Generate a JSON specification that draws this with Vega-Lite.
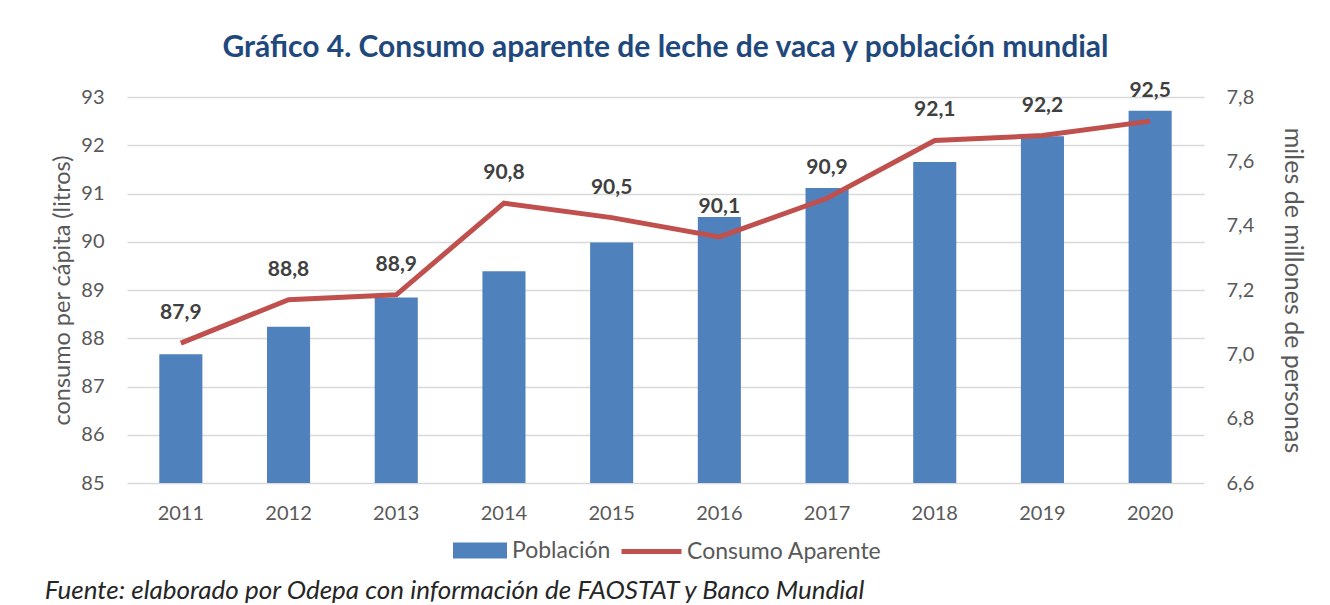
{
  "$schema": "https://vega.github.io/schema/vega-lite/v6.json",
  "padding": {"left": 44, "top": 33, "right": 10, "bottom": 2},
  "background": "white",
  "config": {
    "font": "Lato",
    "locale": {"number": {"decimal": ",", "thousands": ".", "grouping": [3], "currency": ["", ""]}},
    "view": {"stroke": null},
    "axis": {"labelFont": "Lato", "labelFontSize": 20, "labelColor": "#595959", "titleFont": "Lato", "titleFontSize": 23.5, "titleColor": "#595959", "titleFontWeight": "normal", "domain": false, "ticks": false, "grid": false},
    "legend": {"labelFont": "Lato", "labelFontSize": 23, "labelColor": "#595959", "orient": "bottom", "direction": "horizontal", "title": null, "labelLimit": 400, "layout": {"bottom": {"anchor": "middle", "center": true}}},
    "concat": {"spacing": 0}
  },
  "title": {"text": "Fuente: elaborado por Odepa con información de FAOSTAT y Banco Mundial", "orient": "bottom", "anchor": "start", "fontStyle": "italic", "fontWeight": "normal", "fontSize": 26, "font": "Lato", "color": "#262626", "offset": 14, "dx": -6},
  "vconcat": [
    {
      "width": 1077,
      "height": 386,
      "title": {"text": "Gráfico 4. Consumo aparente de leche de vaca y población mundial", "fontSize": 30, "font": "Lato", "fontWeight": "bold", "color": "#1F497D", "anchor": "middle", "offset": 17},
      "data": {"values": [
        {"anio": "2011", "poblacion": 7.0, "consumo": 87.9},
        {"anio": "2012", "poblacion": 7.086, "consumo": 88.8},
        {"anio": "2013", "poblacion": 7.177, "consumo": 88.9},
        {"anio": "2014", "poblacion": 7.258, "consumo": 90.8},
        {"anio": "2015", "poblacion": 7.348, "consumo": 90.5},
        {"anio": "2016", "poblacion": 7.427, "consumo": 90.1},
        {"anio": "2017", "poblacion": 7.517, "consumo": 90.9},
        {"anio": "2018", "poblacion": 7.598, "consumo": 92.1},
        {"anio": "2019", "poblacion": 7.678, "consumo": 92.2},
        {"anio": "2020", "poblacion": 7.757, "consumo": 92.5}
      ]},
      "encoding": {
        "x": {"field": "anio", "type": "ordinal", "scale": {"paddingInner": 0.6, "paddingOuter": 0.3}, "axis": {"title": null, "labelAngle": 0, "labelPadding": 20}}
      },
      "layer": [
        {
          "mark": {"type": "bar", "clip": true},
          "encoding": {
            "y": {"field": "poblacion", "type": "quantitative", "scale": {"domain": [6.6, 7.8], "zero": false, "nice": false}, "axis": {"orient": "right", "values": [6.6, 6.8, 7.0, 7.2, 7.4, 7.6, 7.8], "format": ".1f", "title": "miles de millones de personas", "labelPadding": 22, "titlePadding": 26, "titleFontSize": 25}},
            "fill": {"datum": "Población", "type": "nominal", "scale": {"range": ["#4F81BD"]}, "legend": {"symbolType": "M-0.9,-0.27H0.9V0.27H-0.9Z", "symbolSize": 3600, "symbolStrokeWidth": 0, "offset": -4, "labelOffset": 2}}
          }
        },
        {
          "mark": {"type": "line", "strokeWidth": 5},
          "encoding": {
            "y": {"field": "consumo", "type": "quantitative", "scale": {"domain": [85, 93], "zero": false, "nice": false}, "axis": {"orient": "left", "values": [85, 86, 87, 88, 89, 90, 91, 92, 93], "grid": true, "gridColor": "#D9D9D9", "gridWidth": 1.5, "title": "consumo per cápita (litros)", "labelPadding": 23, "titlePadding": 6}},
            "stroke": {"datum": "Consumo Aparente", "type": "nominal", "scale": {"range": ["#C0504D"]}, "legend": {"symbolType": "stroke", "symbolSize": 3600, "symbolStrokeWidth": 5, "offset": -4, "labelOffset": 3}}
          }
        },
        {
          "mark": {"type": "text", "dy": -30, "fontSize": 21, "fontWeight": "bold", "font": "Lato", "color": "#404040"},
          "encoding": {
            "y": {"field": "consumo", "type": "quantitative", "scale": {"domain": [85, 93], "zero": false, "nice": false}, "axis": null},
            "text": {"field": "consumo", "type": "quantitative", "format": ".1f"}
          }
        }
      ],
      "resolve": {"scale": {"y": "independent", "fill": "independent", "stroke": "independent"}}
    }
  ]
}
